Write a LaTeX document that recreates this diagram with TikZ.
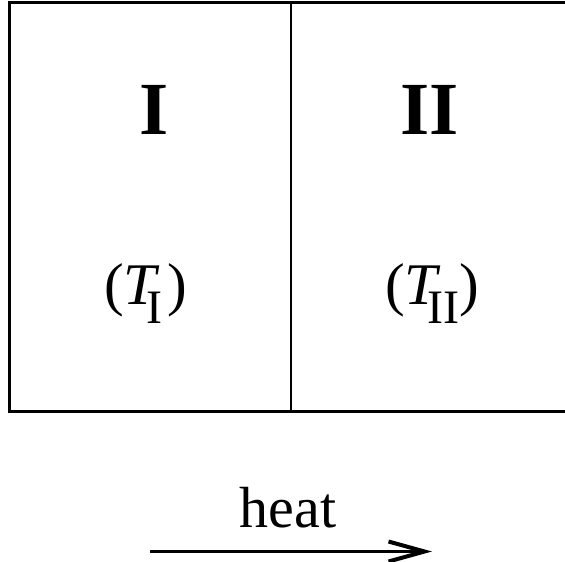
\documentclass[tikz,border=0pt]{standalone}
\usepackage{fontspec}
\setmainfont{Liberation Serif}
\usetikzlibrary{arrows.meta}
\newcommand{\subfnt}{\fontsize{48pt}{48pt}\selectfont}
\begin{document}
\begin{tikzpicture}[x=1pt,y=-1pt,
  bigroman/.style={font=\fontsize{75pt}{75pt}\selectfont\bfseries, inner sep=0pt, anchor=base},
  templabel/.style={font=\fontsize{59pt}{59pt}\selectfont, inner sep=0pt, anchor=base},
  heatlabel/.style={font=\fontsize{58pt}{58pt}\selectfont, inner sep=0pt, anchor=base},
  wall/.style={line width=3pt},
  divider/.style={line width=2pt},
  flow/.style={line width=2.4pt, -{Straight Barb[length=36pt,width=20pt,line width=4pt]}}]
\useasboundingbox (0,0) rectangle (565,562);
\fill[white] (0,0) rectangle (565,562);
\begin{scope}
  \clip (0,0) rectangle (565,562);
  \draw[wall] (9.5,2.3) rectangle (585,411);
\end{scope}
\coordinate (dtop) at (290.5,2.3);
\coordinate (dbot) at (290.5,411);
\draw[divider] (dtop) -- (dbot);
\node[bigroman] (one) at (154,134) {I};
\node[bigroman] (two) at (430,134) {II};
\node[templabel] (tone) at (145.5,304) {(\textit{T}\kern-14pt\raisebox{-19pt}{\subfnt I}\kern5pt)};
\node[templabel] (ttwo) at (432,304) {(\textit{T}\kern-14pt\raisebox{-19pt}{\subfnt II}\kern0pt)};
\node[heatlabel] (heat) at (288,527) {heat};
\coordinate (astart) at (150,551.5);
\coordinate (aend) at (432,551.5);
\draw[flow] (astart) -- (aend);
\end{tikzpicture}
\end{document}
